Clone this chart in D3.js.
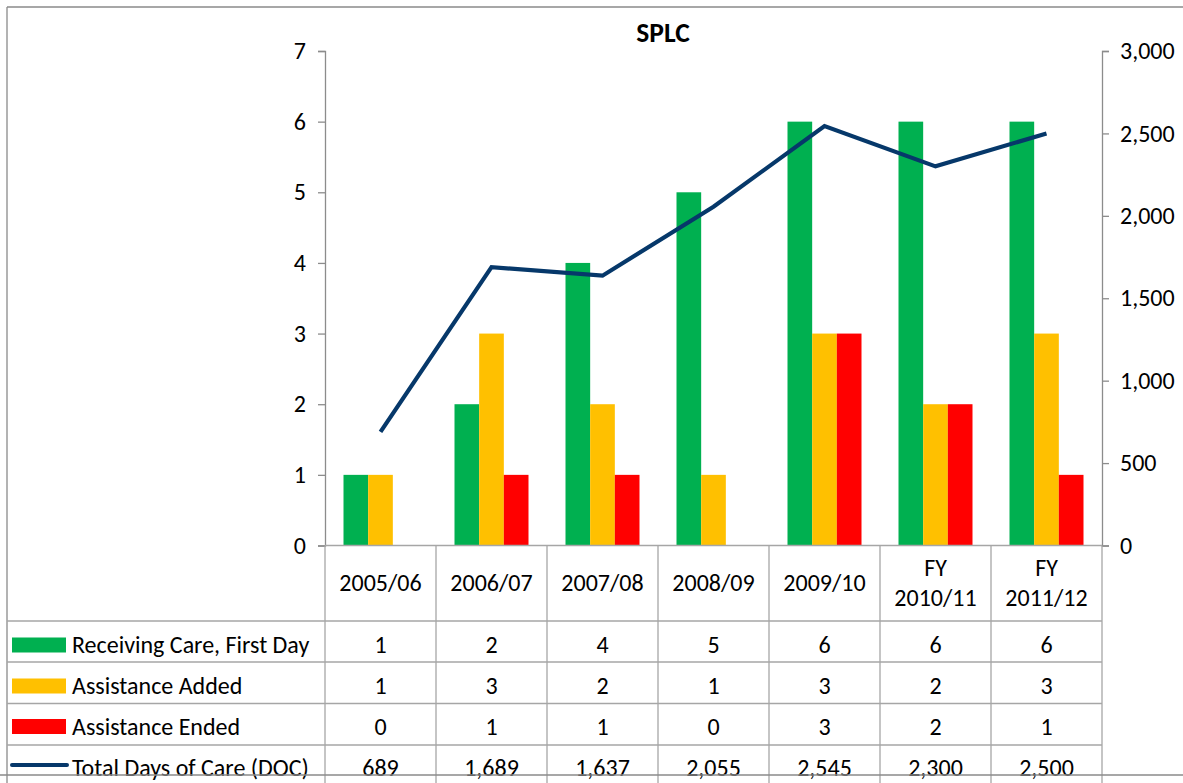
<!DOCTYPE html>
<html>
<head>
<meta charset="utf-8">
<script src="https://cdn.jsdelivr.net/npm/d3@7"></script>
<style>
  html, body { margin: 0; padding: 0; background: #fff; }
  svg { display: block; font-family: Calibri, Carlito, Lato, "Liberation Sans", sans-serif; }
</style>
</head>
<body>
<svg id="chart" width="1183" height="783"></svg>
<script>
// ---------- data ----------
const categories = ["2005/06", "2006/07", "2007/08", "2008/09", "2009/10", "FY 2010/11", "FY 2011/12"];
const categoryLines = [["2005/06"], ["2006/07"], ["2007/08"], ["2008/09"], ["2009/10"], ["FY", "2010/11"], ["FY", "2011/12"]];
const seriesNames = ["Receiving Care, First Day", "Assistance Added", "Assistance Ended"];
const receivingCare = [1, 2, 4, 5, 6, 6, 6];
const assistanceAdded = [1, 3, 2, 1, 3, 2, 3];
const assistanceEnded = [0, 1, 1, 0, 3, 2, 1];
const lineName = "Total Days of Care (DOC)";
const totalDaysOfCare = [689, 1689, 1637, 2055, 2545, 2300, 2500];
const leftTicks = [0, 1, 2, 3, 4, 5, 6, 7];
const rightTicks = [0, 500, 1000, 1500, 2000, 2500, 3000];
const title = "SPLC";

const barColors = ["#00B050", "#FFC000", "#FF0000"];
const lineColor = "#06386A";
const barSeries = [receivingCare, assistanceAdded, assistanceEnded];

// ---------- layout ----------
const svg = d3.select("#chart");
const plotL = 325, plotR = 1102, plotT = 51, plotB = 545.5;
const frameL = 7, frameT = 7, frameB = 775;
const rowEdges = [545.5, 621, 662, 703.5, 745, 786];
const fontSize = 24;
const axisColor = "#8C8C8C";
const gridColor = "#A6A6A6";

const x = d3.scaleBand().domain(categories).range([plotL, plotR]).padding(0);
const xs = d3.scaleBand().domain(seriesNames).range([0, x.bandwidth()]).paddingInner(0).paddingOuter(0.75);
const yL = d3.scaleLinear().domain([0, 7]).range([plotB, plotT]);
const yR = d3.scaleLinear().domain([0, 3000]).range([plotB, plotT]);

// frame
svg.append("line").attr("x1", frameL).attr("x2", 1183).attr("y1", frameT).attr("y2", frameT).attr("stroke", "#8A8A8A").attr("stroke-width", 1.3);
svg.append("line").attr("x1", frameL).attr("x2", frameL).attr("y1", frameT).attr("y2", 783).attr("stroke", "#8A8A8A").attr("stroke-width", 1.3);

// title
svg.append("text").attr("x", 663).attr("y", 42).attr("text-anchor", "middle")
  .attr("font-weight", "bold").attr("font-size", 27.5).attr("fill", "#000").text(title);

// bars
seriesNames.forEach((name, si) => {
  svg.append("g").selectAll("rect").data(barSeries[si]).join("rect")
    .attr("x", (d, i) => x(categories[i]) + xs(name))
    .attr("width", xs.bandwidth())
    .attr("y", d => yL(d))
    .attr("height", d => yL(0) - yL(d))
    .attr("fill", barColors[si]);
});

// line
const lineGen = d3.line()
  .x((d, i) => x(categories[i]) + x.bandwidth() / 2)
  .y(d => yR(d));
svg.append("path").datum(totalDaysOfCare).attr("d", lineGen)
  .attr("fill", "none").attr("stroke", lineColor).attr("stroke-width", 4.2)
  .attr("stroke-linejoin", "miter").attr("stroke-linecap", "butt");

// left axis
const gL = svg.append("g").attr("transform", `translate(${plotL},0)`)
  .call(d3.axisLeft(yL).tickValues(leftTicks).tickSize(7).tickPadding(12).tickFormat(d3.format("d")));
// right axis
const gR = svg.append("g").attr("transform", `translate(${plotR},0)`)
  .call(d3.axisRight(yR).tickValues(rightTicks).tickSize(7).tickPadding(11).tickFormat(d3.format(",")));
[gL, gR].forEach(g => {
  g.attr("font-family", null).attr("font-size", fontSize);
  g.select(".domain").attr("stroke", axisColor).attr("stroke-width", 1.3);
  g.selectAll(".tick line").attr("stroke", axisColor).attr("stroke-width", 1.3);
  g.selectAll(".tick text").attr("font-size", fontSize).attr("fill", "#000");
});

// table grid
const tbl = svg.append("g");
rowEdges.slice(1, 5).forEach(y => {
  tbl.append("line").attr("x1", frameL).attr("x2", plotR).attr("y1", y).attr("y2", y)
    .attr("stroke", gridColor).attr("stroke-width", 1.3);
});
tbl.append("line").attr("x1", plotL).attr("x2", plotR).attr("y1", plotB).attr("y2", plotB)
  .attr("stroke", gridColor).attr("stroke-width", 1.3);
const vEdges = categories.map(c => x(c)).concat([plotR]);
vEdges.forEach(vx => {
  tbl.append("line").attr("x1", vx).attr("x2", vx).attr("y1", plotB).attr("y2", 783)
    .attr("stroke", gridColor).attr("stroke-width", 1.3);
});
svg.append("line").attr("x1", 0).attr("x2", 1183).attr("y1", frameB).attr("y2", frameB)
  .attr("stroke", "#8A8A8A").attr("stroke-width", 1.3);

// header labels
categories.forEach((c, i) => {
  const lines = categoryLines[i];
  const cx = x(c) + x.bandwidth() / 2;
  const t = tbl.append("text").attr("text-anchor", "middle").attr("font-size", fontSize).attr("fill", "#000");
  if (lines.length === 1) {
    t.append("tspan").attr("x", cx).attr("y", 591).text(lines[0]);
  } else {
    t.append("tspan").attr("x", cx).attr("y", 576).text(lines[0]);
    t.append("tspan").attr("x", cx).attr("y", 606).text(lines[1]);
  }
});

// data rows
const fmt = d3.format(",");
const rows = [
  { name: seriesNames[0], values: barSeries[0], type: "bar", color: barColors[0] },
  { name: seriesNames[1], values: barSeries[1], type: "bar", color: barColors[1] },
  { name: seriesNames[2], values: barSeries[2], type: "bar", color: barColors[2] },
  { name: lineName, values: totalDaysOfCare, type: "line", color: lineColor }
];
const baselines = [653, 694, 734.5, 775.5];
rows.forEach((r, ri) => {
  const base = baselines[ri];
  if (r.type === "bar") {
    tbl.append("rect").attr("x", 12).attr("y", base - 15.5).attr("width", 54).attr("height", 15).attr("fill", r.color);
  } else {
    tbl.append("line").attr("x1", 12).attr("x2", 67).attr("y1", base - 10.5).attr("y2", base - 10.5)
      .attr("stroke", r.color).attr("stroke-width", 4).attr("stroke-linecap", "round");
  }
  tbl.append("text").attr("x", 72).attr("y", base).attr("font-size", fontSize).attr("fill", "#000").text(r.name);
  r.values.forEach((v, i) => {
    tbl.append("text").attr("x", x(categories[i]) + x.bandwidth() / 2).attr("y", base)
      .attr("text-anchor", "middle").attr("font-size", fontSize).attr("fill", "#000").text(fmt(v));
  });
});
</script>
</body>
</html>
